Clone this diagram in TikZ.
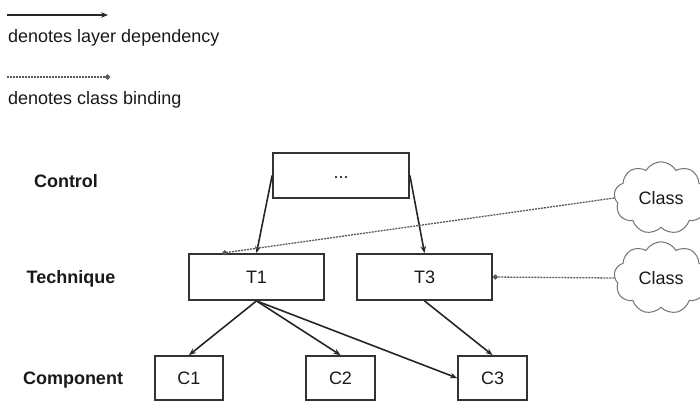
\documentclass[tikz,border=0pt]{standalone}
\usepackage{fontspec}
\setmainfont{Liberation Sans}
\usetikzlibrary{shapes.symbols,arrows.meta,calc}

\tikzset{
  txt/.style={font=\fontsize{18}{21}\selectfont, inner sep=0pt, text=black!90},
  layerlbl/.style={txt, font=\fontsize{18}{21}\selectfont\bfseries},
  box/.style={draw=black!80, line width=1.8pt, rectangle, inner sep=0pt,
    font=\fontsize{18}{21}\selectfont, text=black!90},
  classcloud/.style={draw=black!55, line width=1pt, cloud, cloud puffs=9,
    cloud puff arc=120, minimum width=94pt, minimum height=68pt, inner sep=0pt,
    font=\fontsize{18}{21}\selectfont, text=black!90},
  dep/.style={draw=black!85, line width=1.6pt, -{Stealth[length=7pt,width=5.5pt]}},
  bind/.style={draw=black!65, line width=1.3pt, dash pattern=on 2pt off 1pt,
    -{Circle[length=5pt]}},
}

\begin{document}
\begin{tikzpicture}[x=1pt, y=-1pt]
  \useasboundingbox (0,0) rectangle (700,401);

  % legend
  \coordinate (la) at (7,15);
  \coordinate (lb) at (108,15);
  \draw[dep] (la) -- (lb);
  \node[txt, anchor=west] (legdep) at (8,38) {denotes layer dependency};
  \coordinate (lc) at (7,77);
  \coordinate (ld) at (110,77);
  \draw[bind] (lc) -- (ld);
  \node[txt, anchor=west] (legbind) at (8,100) {denotes class binding};

  % layer labels
  \node[layerlbl] (lctrl) at (66,181) {Control};
  \node[layerlbl] (ltech) at (71,279) {Technique};
  \node[layerlbl] (lcomp) at (73,380) {Component};

  % boxes
  \node[box, minimum width=136pt, minimum height=45pt] (ctrl) at (341,175.5) {};
  \node[txt] (ctrldots) at (341,178) {...};
  \node[box, minimum width=135pt, minimum height=46pt] (t1) at (256.5,277) {T1};
  \node[box, minimum width=135pt, minimum height=46pt] (t3) at (424.5,277) {T3};
  \node[box, minimum width=68pt, minimum height=44pt] (c1) at (189,378) {C1};
  \node[box, minimum width=69pt, minimum height=44pt] (c2) at (340.5,378) {C2};
  \node[box, minimum width=69pt, minimum height=44pt] (c3) at (492.5,378) {C3};

  % classes
  \node[classcloud] (cls1) at (661,198) {Class};
  \node[classcloud] (cls2) at (661,278) {Class};

  % layer dependencies
  \draw[dep] (ctrl.west) -- (t1.north);
  \draw[dep] (ctrl.east) -- (t3.north);
  \draw[dep] (t1.south) -- (c1.north);
  \draw[dep] (t1.south) -- (c2.north);
  \draw[dep] (t1.south) -- (c3.west);
  \draw[dep] (t3.south) -- (c3.north);

  % class bindings
  \draw[bind] (cls1.west) -- ($(t1.north west)!0.25!(t1.north east)$);
  \draw[bind] (cls2.west) -- (t3.east);
\end{tikzpicture}
\end{document}
